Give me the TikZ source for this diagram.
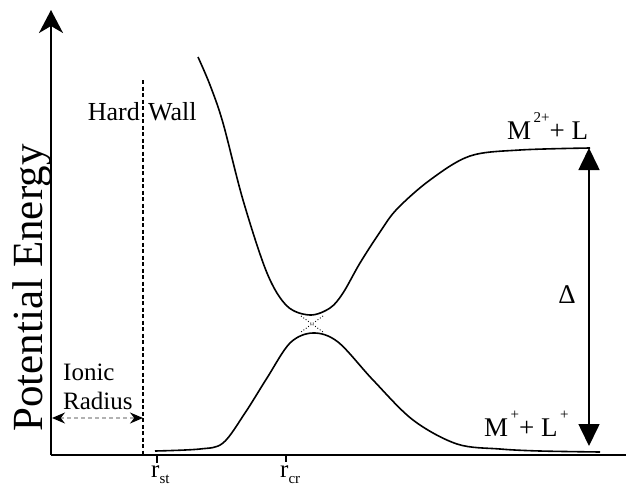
\documentclass[tikz,border=0pt]{standalone}
\usepackage{fontspec}
\setmainfont{Liberation Serif}
\usetikzlibrary{arrows.meta}
\tikzset{
  axis/.style={line width=2pt},
  curve/.style={line width=1.6pt, line join=round},
  wall/.style={line width=1.6pt, dash pattern=on 4pt off 2.5pt},
  lbl/.style={inner sep=0pt, font=\fontsize{25}{30}\selectfont},
  tick/.style={line width=1.6pt},
  cross/.style={line width=0.9pt, dotted},
}
\begin{document}
\begin{tikzpicture}[x=1pt,y=-1pt]
\useasboundingbox (0,0) rectangle (626,487);
% coordinates
\coordinate (O) at (51,455);
\coordinate (Ytop) at (51,10);
\coordinate (Xend) at (626,455);
\coordinate (Wtop) at (143,80);
\coordinate (Wbot) at (143,455);
\coordinate (IRl) at (52,418);
\coordinate (IRr) at (143,418);
\coordinate (Dtop) at (589,148);
\coordinate (Dbot) at (589,446);
% axes
\draw[axis, -{Stealth[length=23pt,width=24pt,inset=7pt]}] (O) -- (Ytop);
\draw[axis] (O) -- (Xend);
% ticks
\draw[tick] (157,455) -- (157,463);
\draw[tick] (286,455) -- (286,462);
% hard wall
\draw[wall] (Wtop) -- (Wbot);
% ionic radius arrow
\draw[line width=1.2pt, gray!60, dash pattern=on 4pt off 3pt,
      {Stealth[length=13pt,width=11pt,black]}-{Stealth[length=13pt,width=11pt,black]}] (IRl) -- (IRr);
% upper curve
\draw[curve] plot[smooth, tension=0.55] coordinates {
 (198,57) (210,85) (223,123) (243,200) (267,273) (287,306) (310,315)
 (330,308) (343,293) (360,263) (380,232) (397,209) (430,180) (470,156)
 (520,150) (590,148)};
% lower curve
\draw[curve] plot[smooth, tension=0.55] coordinates {
 (155,451) (200,449) (223,443) (245,413) (267,378) (290,343) (313,333)
 (338,342) (373,380) (413,420) (457,444) (500,449) (540,451) (600,452)};
% dotted crossing
\draw[cross] (301,316) -- (323,332);
\draw[cross] (323,316) -- (301,332);
% delta arrow
\draw[line width=1.6pt, {Triangle[length=22pt,width=21pt]}-{Triangle[length=22pt,width=21pt]}] (Dbot) -- (Dtop);
% labels
\node[lbl, font=\fontsize{43}{50}\selectfont, rotate=90, anchor=base] (pe) at (42,288) {Potential Energy};
\node[lbl, font=\fontsize{26}{30}\selectfont, anchor=base east] (hard) at (140,120) {Hard};
\node[lbl, font=\fontsize{26}{30}\selectfont, anchor=base west] (wall) at (148,120) {Wall};
\node[lbl, anchor=base west] (ionic) at (63,380) {Ionic};
\node[lbl, anchor=base west] (radius) at (63,409) {Radius};
\node[lbl, font=\fontsize{27}{30}\selectfont] (delta) at (567,295) {Δ};
\node[lbl, font=\fontsize{27}{30}\selectfont, anchor=base west] (m2) at (507,139) {M\raisebox{0.6em}{\fontsize{15}{15}\selectfont\,2+}+ L};
\node[lbl, font=\fontsize{27}{30}\selectfont, anchor=base west] (m1) at (484,436) {M\raisebox{0.6em}{\fontsize{15}{15}\selectfont\,+}+ L\raisebox{0.6em}{\fontsize{15}{15}\selectfont\,+}};
\node[lbl, anchor=base west] (rst) at (151,477) {r\raisebox{-0.25em}{\fontsize{15}{15}\selectfont st}};
\node[lbl, anchor=base west] (rcr) at (280,477) {r\raisebox{-0.25em}{\fontsize{15}{15}\selectfont cr}};
\end{tikzpicture}
\end{document}
